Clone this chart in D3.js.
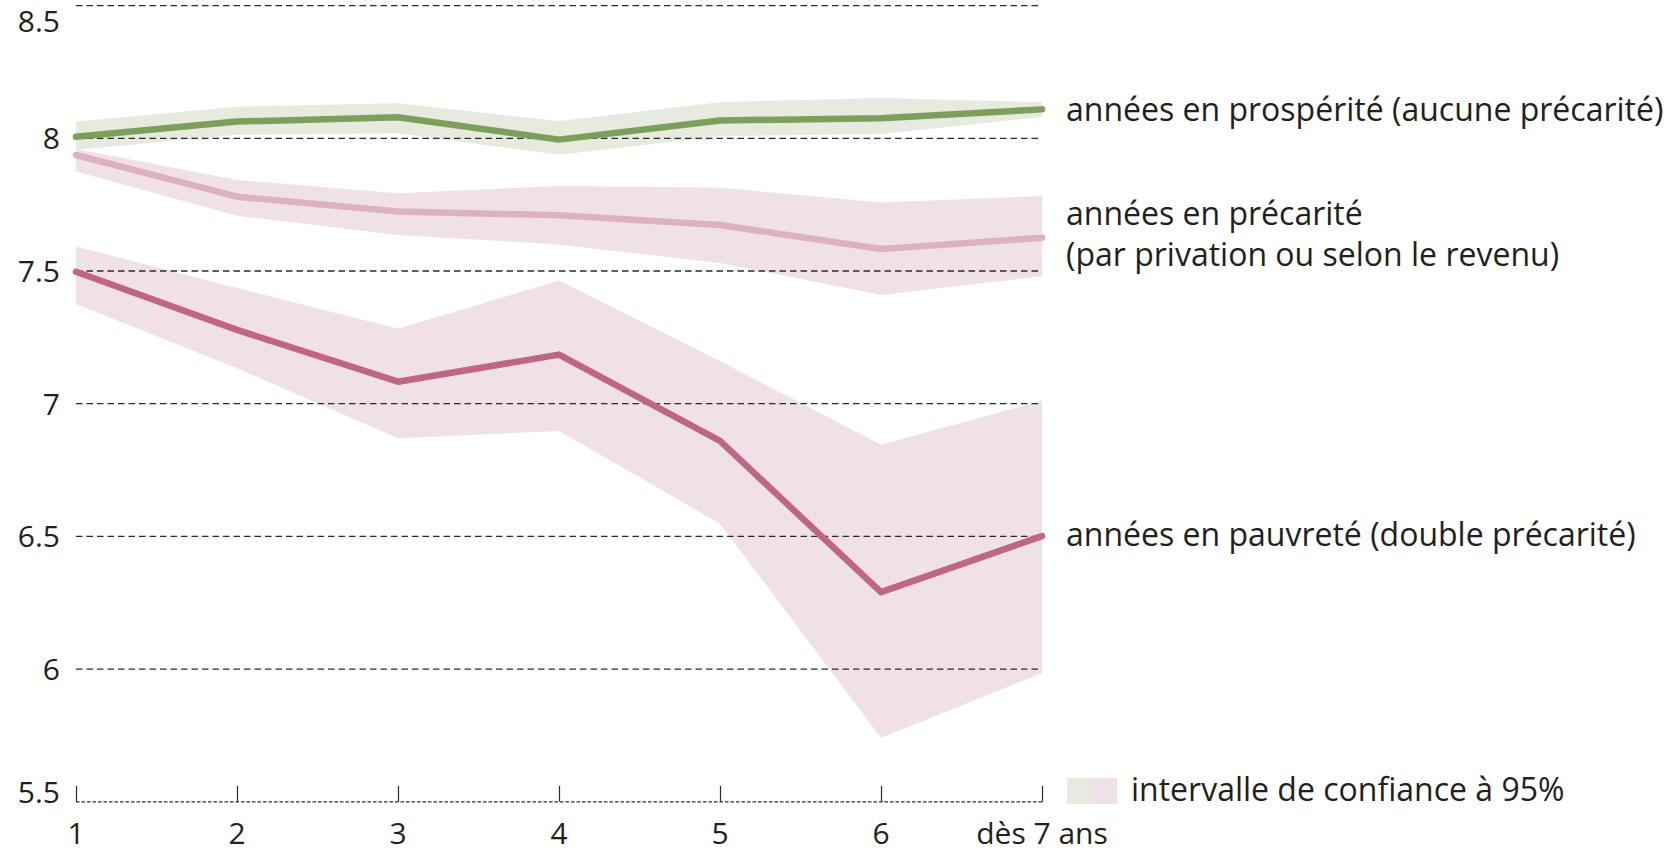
<!DOCTYPE html>
<html>
<head>
<meta charset="utf-8">
<script src="https://cdn.jsdelivr.net/npm/d3@7"></script>
<style>
  html, body { margin: 0; padding: 0; background: #fff; }
  svg text { font-family: "Open Sans", sans-serif; fill: #231f20; }
</style>
</head>
<body>
<div id="chart"></div>
<script>
// --- data ---
const xLabels = ["1", "2", "3", "4", "5", "6", "dès 7 ans"];
const yTicks = [5.5, 6, 6.5, 7, 7.5, 8, 8.5];

// années en prospérité (aucune précarité)
const prosp     = [8.006, 8.063, 8.079, 7.995, 8.067, 8.076, 8.109];
const prospLow  = [7.956, 8.013, 8.019, 7.938, 8.008, 8.016, 8.080];
const prospHigh = [8.063, 8.119, 8.132, 8.065, 8.136, 8.152, 8.136];

// années en précarité (par privation ou selon le revenu)
const prec     = [7.937, 7.780, 7.724, 7.710, 7.673, 7.583, 7.625];
const precLow  = [7.875, 7.708, 7.636, 7.600, 7.530, 7.410, 7.480];
const precHigh = [7.960, 7.843, 7.793, 7.820, 7.814, 7.758, 7.783];

// années en pauvreté (double précarité)
const pauv     = [7.497, 7.278, 7.083, 7.185, 6.860, 6.290, 6.501];
const pauvLow  = [7.376, 7.134, 6.870, 6.897, 6.548, 5.741, 5.985];
const pauvHigh = [7.592, 7.436, 7.282, 7.464, 7.160, 6.845, 7.011];

const seriesLabels = [
  ["années en prospérité (aucune précarité)"],
  ["années en précarité", "(par privation ou selon le revenu)"],
  ["années en pauvreté (double précarité)"]
];
const legendLabel = "intervalle de confiance à 95%";

// --- layout ---
const W = 1680, H = 853;
const svg = d3.select("#chart").append("svg")
  .attr("width", W).attr("height", H);

const x = d3.scaleLinear().domain([0, xLabels.length - 1]).range([76, 1042]);
const y = d3.scaleLinear().domain([5.5, 8.5]).range([801.8, 5.6]);

const green = "#7d9f5c", greenBand = "#e6eadf";
const lightPink = "#dcb2c2", pinkBand = "#f0e1e6";
const darkPink = "#bf6587";

const area = (lo, hi) => d3.area()
  .x((d, i) => x(i))
  .y0((d, i) => y(lo[i]))
  .y1((d, i) => y(hi[i]))(lo);

const line = vals => d3.line()
  .x((d, i) => x(i))
  .y(d => y(d))(vals);

// confidence bands
svg.append("path").attr("d", area(pauvLow, pauvHigh)).attr("fill", pinkBand);
svg.append("path").attr("d", area(precLow, precHigh)).attr("fill", pinkBand);
svg.append("path").attr("d", area(prospLow, prospHigh)).attr("fill", greenBand);

// dashed gridlines
svg.append("g").selectAll("line")
  .data(yTicks.filter(t => t > 5.5))
  .enter().append("line")
  .attr("x1", x(0)).attr("x2", x(xLabels.length - 1))
  .attr("y1", d => y(d)).attr("y2", d => y(d))
  .attr("stroke", "#2b2b2b")
  .attr("stroke-width", 1.3)
  .attr("stroke-dasharray", "6.5,4");

// bottom axis: fine dashed line with upward ticks
const xAxis = d3.axisTop(x)
  .tickValues(d3.range(xLabels.length))
  .tickSize(16)
  .tickFormat("");
const axisG = svg.append("g")
  .attr("transform", `translate(0,${y(5.5)})`)
  .call(xAxis);
axisG.select(".domain").remove();
axisG.selectAll(".tick line").attr("stroke", "#2b2b2b").attr("stroke-width", 1.2);
svg.append("line")
  .attr("x1", x(0)).attr("x2", x(xLabels.length - 1))
  .attr("y1", y(5.5)).attr("y2", y(5.5))
  .attr("stroke", "#2b2b2b")
  .attr("stroke-width", 1.2)
  .attr("stroke-dasharray", "3.5,2");

// x labels
svg.append("g").selectAll("text")
  .data(xLabels)
  .enter().append("text")
  .attr("x", (d, i) => x(i))
  .attr("y", 844)
  .attr("text-anchor", "middle")
  .attr("font-size", 30)
  .text(d => d);

// y labels
svg.append("g").selectAll("text")
  .data(yTicks)
  .enter().append("text")
  .attr("x", 60)
  .attr("y", d => d === 8.5 ? 32 : (d === 5.5 ? y(d) + 1 : y(d) + 11))
  .attr("text-anchor", "end")
  .attr("font-size", 30)
  .text(d => d3.format("")(d));

// series lines
[[pauv, darkPink], [prec, lightPink], [prosp, green]].forEach(([vals, c]) => {
  svg.append("path")
    .attr("d", line(vals))
    .attr("fill", "none")
    .attr("stroke", c)
    .attr("stroke-width", 6.5)
    .attr("stroke-linejoin", "round")
    .attr("stroke-linecap", "round");
});

// series labels
const labelY = [121, 225, 546];
seriesLabels.forEach((lines, k) => {
  lines.forEach((t, j) => {
    svg.append("text")
      .attr("x", 1066)
      .attr("y", labelY[k] + j * 41)
      .attr("font-size", 32)
      .text(t);
  });
});

// legend
svg.append("rect").attr("x", 1067).attr("y", 778).attr("width", 25).attr("height", 26).attr("fill", greenBand);
svg.append("rect").attr("x", 1092).attr("y", 778).attr("width", 25).attr("height", 26).attr("fill", pinkBand);
svg.append("text")
  .attr("x", 1131)
  .attr("y", 801)
  .attr("font-size", 32)
  .text(legendLabel);
</script>
</body>
</html>
